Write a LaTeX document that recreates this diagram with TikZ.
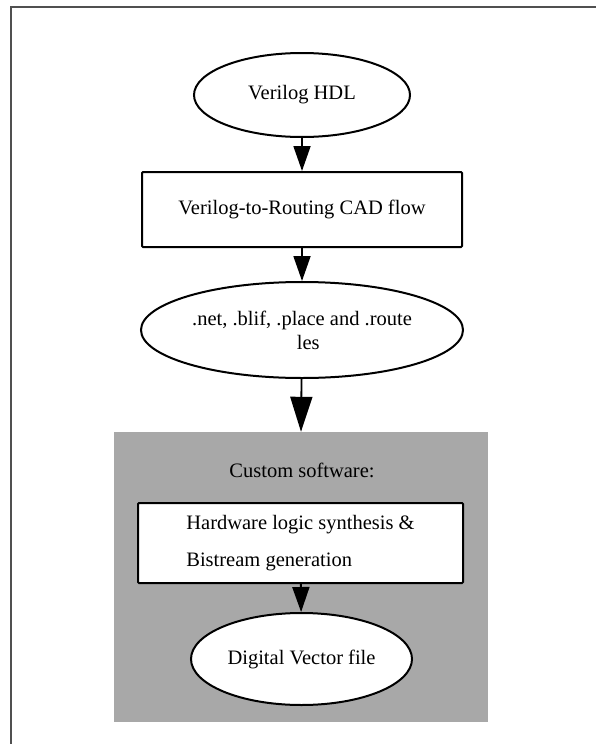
\documentclass[tikz,border=0pt]{standalone}
\usepackage{fontspec}
\setmainfont{Liberation Serif}
\usetikzlibrary{shapes.geometric,arrows.meta}
\definecolor{framegray}{RGB}{80,80,80}
\definecolor{swgray}{RGB}{168,168,168}

\begin{document}
\begin{tikzpicture}[x=1pt,y=-1pt,
  every node/.style={font=\fontsize{20.5}{24}\selectfont},
  oval/.style={ellipse,draw,line width=2pt,fill=white,inner sep=0pt},
  box/.style={rectangle,draw,line width=2pt,fill=white,inner sep=0pt,rounded corners=1pt},
  flow/.style={-{Triangle[length=25pt,width=17pt]},line width=1.8pt},
  bigflow/.style={-{Triangle[length=35pt,width=22pt]},line width=1.8pt}]
\useasboundingbox (0,0) rectangle (596,744);

% page frame (top and left edges only)
\draw[line width=2pt,color=framegray] (596,6.5) -- (10.8,6.5) -- (10.8,744);

% shaded region for the custom software stage
\node[fill=swgray,minimum width=374pt,minimum height=290pt,inner sep=0pt] (sw) at (301,577) {};
\node (swlabel) at (302,470) {Custom software:};

% flow nodes
\node[oval,minimum width=216pt,minimum height=84pt] (hdl) at (302,95) {Verilog HDL};
\node[box,minimum width=320pt,minimum height=75pt] (vtr) at (302,209.5) {Verilog-to-Routing CAD flow};
\node[oval,minimum width=322pt,minimum height=96pt,align=center] (files) at (302,330)
  {.net, .blif, .place and .route\\\phantom{fi}les};
\node[box,minimum width=325pt,minimum height=80pt,align=left] (hw) at (300.5,543)
  {Hardware logic synthesis \&\\[13pt]Bistream generation};
\node[oval,minimum width=221pt,minimum height=92pt] (dvf) at (301.5,659) {Digital Vector file};

% connectors
\draw[flow] (hdl) -- (vtr);
\draw[flow] (vtr) -- (files);
\draw[bigflow] (files) -- (sw.north);
\draw[flow] (hw) -- (dvf);
\end{tikzpicture}
\end{document}
